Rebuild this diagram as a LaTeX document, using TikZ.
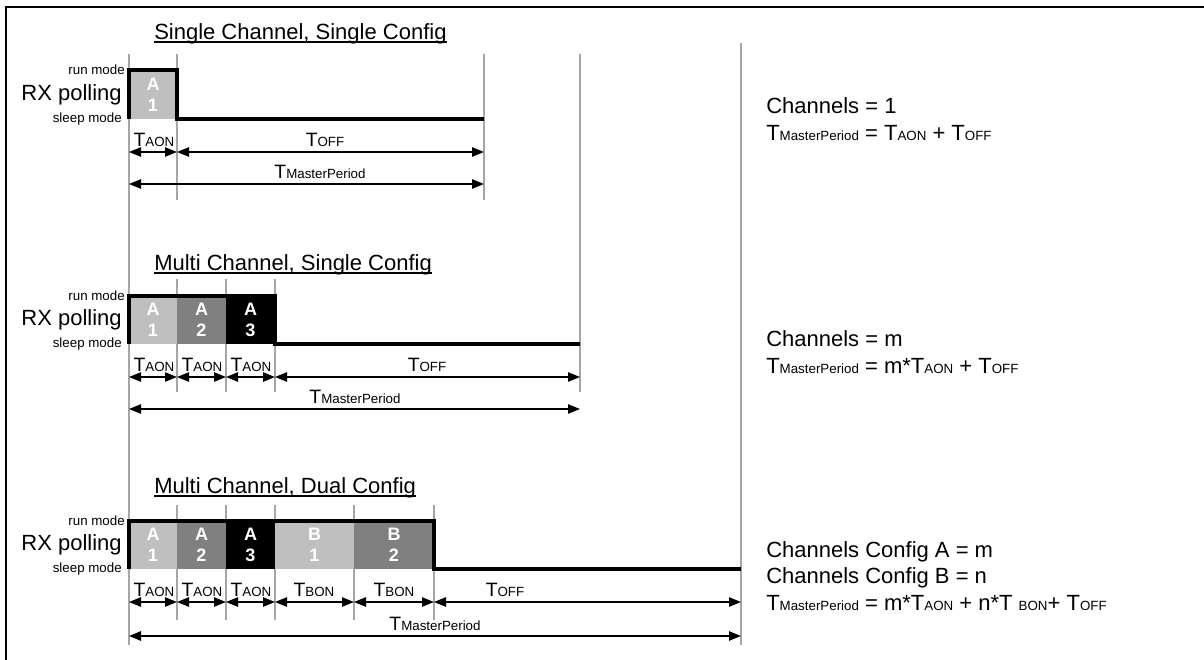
\documentclass[tikz,border=0pt]{standalone}
\usepackage{fontspec}
\setmainfont{Liberation Sans}
\usetikzlibrary{arrows.meta,positioning,calc}

\newcommand{\subtxt}[1]{{\fontsize{10}{12}\selectfont #1}}
\newcommand{\Tlab}[1]{T\subtxt{#1}}
\newsavebox{\headbox}
\newcommand{\headtext}[1]{\sbox{\headbox}{#1}\usebox{\headbox}\llap{\rule[-2.2pt]{\wd\headbox}{0.9pt}}}

\begin{document}
\begin{tikzpicture}[
    x=0.75pt, y=-0.75pt,
    font=\fontsize{16.5}{20}\selectfont,
    >={Triangle[length=9pt,width=7pt]},
    outline/.style={line width=1.5pt, draw=black},
    guide/.style={line width=0.9pt, draw=black!35},
    wave/.style={line width=3pt, draw=black, line join=miter},
    timespan/.style={<->, line width=1.1pt},
    lightslot/.style={fill=black!25},
    midslot/.style={fill=black!50},
    darkslot/.style={fill=black},
    slottext/.style={text=white, font=\fontsize{13.5}{16}\selectfont\bfseries,
        align=center, inner sep=0pt},
    modetext/.style={font=\fontsize{10}{12}\selectfont, anchor=east, inner sep=0pt},
    ylabel/.style={anchor=east, inner sep=0pt},
    headline/.style={anchor=west, inner sep=0pt},
    timelabel/.style={font=\fontsize{14.5}{16}\selectfont, inner sep=0pt},
    summary/.style={anchor=west, align=left, inner sep=0pt,
        font=\fontsize{16.5}{20}\selectfont}
]
\useasboundingbox (0,0) rectangle (1204,660);
\draw[outline] (6,660) |- (1204,7);

% long guide lines
\draw[guide] (129,54) -- (129,645);
\draw[guide] (741,43) -- (741,645);

% ---- Single Channel, Single Config
\foreach \x in {177,484} \draw[guide] (\x,54) -- (\x,200);
\draw[guide] (580,54) -- (580,392);
\node[headline] (head1) at (154,34) {\headtext{Single Channel, Single Config}};
\node[modetext] (run1) at (125,70) {run mode};
\node[ylabel] (rx1) at (122,95) {RX polling};
\node[modetext] (sleep1) at (122,119) {sleep mode};
\fill[lightslot] (129,70) rectangle (177,119);
\node[slottext] (one-a1) at (153,94.5) {A\\1};
\draw[wave] (129,119) |- (177,70) |- (484,119);

\coordinate (one-t0) at (129,152);
\coordinate (one-t1) at (177,152);
\coordinate (one-t2) at (484,152);
\coordinate (one-m0) at (129,184);
\coordinate (one-m1) at (484,184);
\draw[timespan] (one-t0) -- (one-t1);
\draw[timespan] (one-t1) -- (one-t2);
\draw[timespan] (one-m0) -- (one-m1);
\node[timelabel] (one-aon) at (154,140) {\Tlab{AON}};
\node[timelabel] (one-off) at (325,140) {\Tlab{OFF}};
\node[timelabel] (one-mp) at (320,172) {\Tlab{MasterPeriod}};

\node[summary] (sum1) at (766,119) {Channels = 1\\
    \Tlab{MasterPeriod} = \Tlab{AON} + \Tlab{OFF}};

% ---- Multi Channel, Single Config
\foreach \x in {177,226,275} \draw[guide] (\x,279) -- (\x,392);
\node[headline] (head2) at (154,265) {\headtext{Multi Channel, Single Config}};
\node[modetext] (run2) at (125,296) {run mode};
\node[ylabel] (rx2) at (122,320) {RX polling};
\node[modetext] (sleep2) at (122,344) {sleep mode};
\fill[lightslot] (129,296) rectangle (177,344);
\fill[midslot] (177,296) rectangle (226,344);
\fill[darkslot] (226,296) rectangle (275,344);
\node[slottext] (two-a1) at (153,320) {A\\1};
\node[slottext] (two-a2) at (201.5,320) {A\\2};
\node[slottext] (two-a3) at (250.5,320) {A\\3};
\draw[wave] (129,344) |- (275,296) |- (580,344);

\foreach \n/\x in {0/129,1/177,2/226,3/275,4/580}
    \coordinate (two-t\n) at (\x,377);
\coordinate (two-m0) at (129,409);
\coordinate (two-m1) at (580,409);
\draw[timespan] (two-t0) -- (two-t1);
\draw[timespan] (two-t1) -- (two-t2);
\draw[timespan] (two-t2) -- (two-t3);
\draw[timespan] (two-t3) -- (two-t4);
\draw[timespan] (two-m0) -- (two-m1);
\node[timelabel] (two-aon1) at (154,365) {\Tlab{AON}};
\node[timelabel] (two-aon2) at (202,365) {\Tlab{AON}};
\node[timelabel] (two-aon3) at (251,365) {\Tlab{AON}};
\node[timelabel] (two-off) at (427,365) {\Tlab{OFF}};
\node[timelabel] (two-mp) at (355,397) {\Tlab{MasterPeriod}};

\node[summary] (sum2) at (766,352) {Channels = m\\
    \Tlab{MasterPeriod} = m*\Tlab{AON} + \Tlab{OFF}};

% ---- Multi Channel, Dual Config
\foreach \x in {177,226,275,354,434} \draw[guide] (\x,505) -- (\x,620);
\node[headline] (head3) at (154,488) {\headtext{Multi Channel, Dual Config}};
\node[modetext] (run3) at (125,521) {run mode};
\node[ylabel] (rx3) at (122,545) {RX polling};
\node[modetext] (sleep3) at (122,569) {sleep mode};
\fill[lightslot] (129,521) rectangle (177,569);
\fill[midslot] (177,521) rectangle (226,569);
\fill[darkslot] (226,521) rectangle (275,569);
\fill[lightslot] (275,521) rectangle (354,569);
\fill[midslot] (354,521) rectangle (434,569);
\node[slottext] (three-a1) at (153,545) {A\\1};
\node[slottext] (three-a2) at (201.5,545) {A\\2};
\node[slottext] (three-a3) at (250.5,545) {A\\3};
\node[slottext] (three-b1) at (314.5,545) {B\\1};
\node[slottext] (three-b2) at (394,545) {B\\2};
\draw[wave] (129,569) |- (434,521) |- (741,569);

\foreach \n/\x in {0/129,1/177,2/226,3/275,4/354,5/434,6/741}
    \coordinate (three-t\n) at (\x,602);
\coordinate (three-m0) at (129,636);
\coordinate (three-m1) at (741,636);
\foreach \a/\b in {0/1,1/2,2/3,3/4,4/5,5/6}
    \draw[timespan] (three-t\a) -- (three-t\b);
\draw[timespan] (three-m0) -- (three-m1);
\node[timelabel] (three-aon1) at (154,590) {\Tlab{AON}};
\node[timelabel] (three-aon2) at (202,590) {\Tlab{AON}};
\node[timelabel] (three-aon3) at (251,590) {\Tlab{AON}};
\node[timelabel] (three-bon1) at (314,590) {\Tlab{BON}};
\node[timelabel] (three-bon2) at (394,590) {\Tlab{BON}};
\node[timelabel] (three-off) at (505,590) {\Tlab{OFF}};
\node[timelabel] (three-mp) at (435,624) {\Tlab{MasterPeriod}};

\node[summary] (sum3) at (766,576) {Channels Config A = m\\
    Channels Config B = n\\
    \Tlab{MasterPeriod} = m*\Tlab{AON} + n*T \subtxt{BON}+ \Tlab{OFF}};

\end{tikzpicture}
\end{document}
